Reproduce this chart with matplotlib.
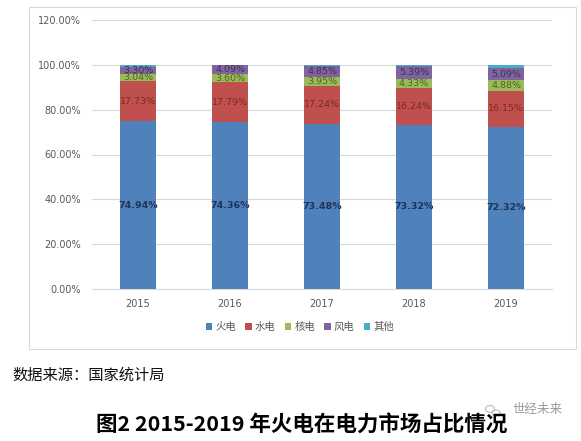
import matplotlib
matplotlib.use("Agg")
import matplotlib.pyplot as plt
from matplotlib.patches import Rectangle, Ellipse
import numpy as np

plt.rcParams['font.family'] = ['DejaVu Sans', 'Noto Sans CJK SC']

years = ['2015', '2016', '2017', '2018', '2019']
series_names = ['火电', '水电', '核电', '风电', '其他']
thermal = [74.94, 74.36, 73.48, 73.32, 72.32]
hydro = [17.73, 17.79, 17.24, 16.24, 16.15]
nuclear = [3.04, 3.60, 3.95, 4.33, 4.88]
wind = [3.30, 4.09, 4.85, 5.39, 5.09]
other = [0.99, 0.16, 0.48, 0.72, 1.56]
yticks = [0, 20, 40, 60, 80, 100, 120]

colors = ['#4F81BD', '#C0504D', '#9BBB59', '#8064A2', '#4BACC6']
label_colors = ['#1F3356', '#7A2A28', '#4F6228', '#3F3151', None]

W, H = 581, 441
fig = plt.figure(figsize=(W / 100, H / 100), dpi=100)

# chart frame
fig.patches.append(Rectangle((29 / W, 1 - 349 / H), (576 - 29) / W, (349 - 7) / H,
                             transform=fig.transFigure, fill=False,
                             edgecolor='#D9D9D9', linewidth=0.8))

ax = fig.add_axes([92 / W, 1 - 289 / H, (552 - 92) / W, (289 - 20) / H])
x = np.arange(len(years))
data = [thermal, hydro, nuclear, wind, other]
bottom = np.zeros(len(years))
for i, (vals, name) in enumerate(zip(data, series_names)):
    vals = np.array(vals)
    ax.bar(x, vals, width=0.40, bottom=bottom, color=colors[i], label=name, zorder=3)
    if label_colors[i] is not None:
        for xi, b, v in zip(x, bottom, vals):
            ax.text(xi, b + v / 2, f'{v:.2f}%', ha='center', va='center',
                    fontsize=6.8, color=label_colors[i],
                    fontweight='bold' if i == 0 else 'normal', zorder=4)
    bottom += vals

ax.set_xlim(-0.5, 4.5)
ax.set_ylim(0, 120)
ax.set_yticks(yticks)
ax.set_yticklabels([f'{t:.2f}%' for t in yticks])
ax.set_xticks(x)
ax.set_xticklabels(years)
ax.tick_params(axis='both', length=0, labelsize=7, colors='#595959')
ax.tick_params(axis='y', pad=8)
ax.tick_params(axis='x', pad=7)
ax.grid(axis='y', color='#D9D9D9', linewidth=0.8, zorder=0)
for s in ['top', 'right', 'left']:
    ax.spines[s].set_visible(False)
ax.spines['bottom'].set_color('#D9D9D9')
ax.spines['bottom'].set_linewidth(0.8)

leg = fig.legend(loc='center', bbox_to_anchor=(300 / W, 1 - 327 / H), ncol=5,
                 frameon=False, handlelength=0.6, handleheight=0.6,
                 handletextpad=0.3, columnspacing=0.9,
                 prop={'family': ['Noto Sans CJK SC'], 'size': 7.5})
for t in leg.get_texts():
    t.set_color('#595959')

fig.text(12 / W, 1 - 375 / H, '数据来源：国家统计局', ha='left', va='center',
         fontsize=11, family=['Noto Sans CJK SC'], color='#111111')
fig.text(302 / W, 1 - 425 / H, '图2 2015-2019 年火电在电力市场占比情况', ha='center', va='center',
         fontsize=15.5, fontweight='bold', family=['Noto Sans CJK SC'], color='#000000')
fig.text(537 / W, 1 - 410 / H, '世经未来', ha='center', va='center',
         fontsize=9, family=['Noto Sans CJK SC'], color='#9A9A9A')
# small wechat-like icon drawn with ellipses
for (cx, cy, w, h) in [(490, 409, 9, 7), (496, 413, 8, 6)]:
    fig.patches.append(Ellipse((cx / W, 1 - cy / H), w / W, h / H, transform=fig.transFigure,
                               fill=False, edgecolor='#BBBBBB', linewidth=0.8))

fig.savefig('out.png', dpi=100)
